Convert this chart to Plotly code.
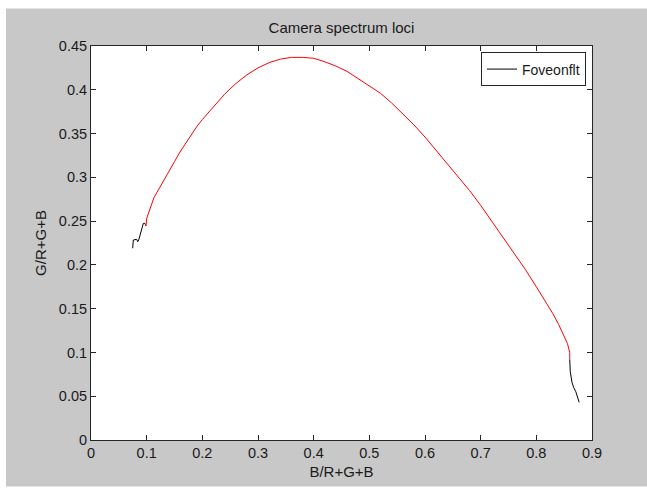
import plotly.graph_objects as go

# Black start segment (Foveonflt)
x_black_start = [0.0749, 0.0749, 0.0760, 0.0821, 0.0839, 0.0857, 0.0893, 0.0922, 0.0940, 0.0970]
y_black_start = [0.2190, 0.2227, 0.2284, 0.2292, 0.2265, 0.2284, 0.2379, 0.2436, 0.2474, 0.2474]

# Red middle segment
x_red = [0.0970, 0.0988, 0.1000, 0.1048, 0.1090, 0.1132, 0.1209, 0.13, 0.14, 0.15, 0.16, 0.17,
         0.18, 0.19, 0.20, 0.22, 0.24, 0.26, 0.28, 0.30, 0.32, 0.34, 0.36, 0.38, 0.40, 0.42,
         0.44, 0.46, 0.48, 0.50, 0.52, 0.54, 0.56, 0.58, 0.60, 0.62, 0.64, 0.66, 0.68, 0.70,
         0.72, 0.74, 0.76, 0.78, 0.80, 0.82, 0.83, 0.84, 0.85, 0.856, 0.860, 0.860]
y_red = [0.2474, 0.2444, 0.2531, 0.2618, 0.2702, 0.2770, 0.2854, 0.296, 0.308, 0.318, 0.329, 0.339,
         0.349, 0.358, 0.366, 0.381, 0.395, 0.407, 0.417, 0.425, 0.431, 0.435, 0.437, 0.437, 0.436, 0.432,
         0.427, 0.421, 0.413, 0.405, 0.396, 0.385, 0.373, 0.360, 0.346, 0.331, 0.316, 0.301, 0.285, 0.268,
         0.250, 0.232, 0.214, 0.195, 0.175, 0.155, 0.144, 0.132, 0.119, 0.110, 0.100, 0.092]

# Black end segment
x_black_end = [0.860, 0.861, 0.864, 0.867, 0.871, 0.874, 0.877]
y_black_end = [0.092, 0.078, 0.066, 0.060, 0.055, 0.050, 0.043]

x_ticks = [0, 0.1, 0.2, 0.3, 0.4, 0.5, 0.6, 0.7, 0.8, 0.9]
x_tick_labels = ["0", "0.1", "0.2", "0.3", "0.4", "0.5", "0.6", "0.7", "0.8", "0.9"]
y_ticks = [0, 0.05, 0.1, 0.15, 0.2, 0.25, 0.3, 0.35, 0.4, 0.45]
y_tick_labels = ["0", "0.05", "0.1", "0.15", "0.2", "0.25", "0.3", "0.35", "0.4", "0.45"]

FONT = "Liberation Sans, Arial, sans-serif"
GRAY = "#c8c8c8"
AX = "#262626"
TXT = "#1a1a1a"

fig = go.Figure()
fig.add_trace(go.Scatter(
    x=x_black_start + [None] + x_black_end,
    y=y_black_start + [None] + y_black_end,
    mode="lines", name="Foveonflt",
    line=dict(color="black", width=1),
    connectgaps=False,
))
fig.add_trace(go.Scatter(
    x=x_red, y=y_red, mode="lines", showlegend=False,
    line=dict(color="#ff0000", width=1),
))

W, H = 647, 489
L, R, T, B = 91, 55, 45.5, 48.5
pw, ph = W - L - R, H - T - B

def px2x(px):
    return (px - L) / pw

def py2y(py):
    return (H - B - py) / ph

shapes = [
    dict(type="rect", xref="paper", yref="paper", x0=px2x(-5), x1=px2x(6), y0=py2y(-5), y1=py2y(494),
         fillcolor="white", line=dict(width=0), layer="above"),
    dict(type="rect", xref="paper", yref="paper", x0=px2x(-5), x1=px2x(652), y0=py2y(-5), y1=py2y(8),
         fillcolor="white", line=dict(width=0), layer="above"),
    dict(type="rect", xref="paper", yref="paper", x0=px2x(-5), x1=px2x(652), y0=py2y(487), y1=py2y(494),
         fillcolor="white", line=dict(width=0), layer="above"),
]

axis_common = dict(
    showgrid=False, zeroline=False, showline=True, linecolor=AX, linewidth=1,
    mirror="ticks", ticks="inside", ticklen=5, tickcolor=AX, tickwidth=1,
    tickfont=dict(family=FONT, size=14.5, color=TXT),
)

fig.update_layout(
    width=W, height=H,
    margin=dict(l=L, r=R, t=T, b=B, pad=0),
    paper_bgcolor=GRAY, plot_bgcolor="white",
    font=dict(family=FONT, size=14, color=TXT),
    title=dict(text="Camera spectrum loci", x=(L + pw / 2) / W, xanchor="center",
               y=1 - 28 / H, yanchor="middle", font=dict(family=FONT, size=15, color=TXT)),
    xaxis=dict(range=[0, 0.9], tickvals=x_ticks, ticktext=x_tick_labels,
               title=dict(text="B/R+G+B", standoff=6, font=dict(family=FONT, size=15, color=TXT)),
               **axis_common),
    yaxis=dict(range=[0, 0.45], tickvals=y_ticks, ticktext=y_tick_labels,
               title=dict(text="G/R+G+B", standoff=8, font=dict(family=FONT, size=15, color=TXT)),
               **axis_common),
    legend=dict(x=px2x(586), y=py2y(52), xanchor="right", yanchor="top",
                bgcolor="white", bordercolor=AX, borderwidth=1,
                font=dict(family=FONT, size=14, color=TXT),
                itemwidth=30, tracegroupgap=0),
    shapes=shapes,
)

fig.write_html("out.html", config={"displayModeBar": False},
               post_script="document.body.style.margin='0px';document.body.style.overflow='hidden';")
